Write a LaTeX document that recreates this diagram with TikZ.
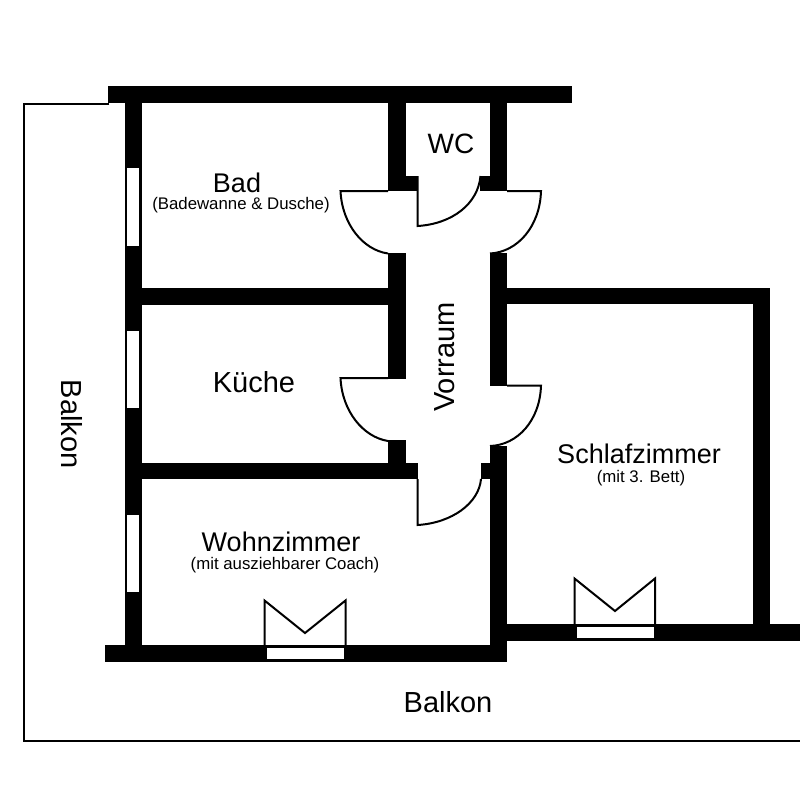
\documentclass[tikz,border=0pt]{standalone}
\usepackage{fontspec}
\setmainfont{Liberation Sans}
\def\wall(#1,#2)(#3,#4){\fill[black] (#1,#2) rectangle (#3,#4);}
\def\glass(#1,#2)(#3,#4){\draw[fill=white, line width=0.6pt] (#1,#2) rectangle (#3,#4);}
\tikzset{
	room/.style={font=\fontsize{#1}{#1}\selectfont, inner sep=0pt},
	room/.default=27,
	note/.style={font=\fontsize{16.8}{17}\selectfont, inner sep=0pt},
	doorline/.style={line width=2pt, line join=miter},
}

\begin{document}
\begin{tikzpicture}[x=1pt, y=-1pt]
	%%%%% START %%%%%
	\useasboundingbox (0, 0) rectangle (800, 800);

	\draw[line width=2pt] (109, 103.5) -- (23.5, 103.5) -- (23.5, 741) -- (800, 741);

	\wall(108, 86)(572, 103)
	\wall(124.5, 103)(141.5, 662)
	\wall(105, 645)(507, 661.5)
	\wall(125, 288)(390, 304.5)
	\wall(125, 463)(418, 479)

	\wall(388, 103)(406, 190.5)
	\wall(406, 176)(418, 190.5)
	\wall(490, 103)(507, 190.5)
	\wall(480, 176)(490, 190.5)

	\wall(388, 253)(406, 379)
	\wall(388, 440)(406, 463)
	\wall(490, 253)(507, 386)
	\wall(490, 446)(507, 661.5)
	\wall(481, 463)(490, 479)

	\wall(507, 288)(770, 304)
	\wall(753, 288)(770, 625)
	\wall(507, 623.5)(800, 640.5)

	\glass(126, 167)(139, 246)
	\glass(126, 330)(139, 408)
	\glass(126, 514)(139, 592)
	\glass(266, 647)(344, 659.5)
	\glass(576, 626)(654, 638.5)

	% doors
	\draw[doorline] (417.5, 176) -- (417.5, 226) .. controls (452, 224) and (478, 204) .. (480.5, 176);
	\draw[doorline] (388, 191) -- (340.5, 191) .. controls (342, 224) and (363, 250) .. (388, 253.5);
	\draw[doorline] (507, 191) -- (541, 191) .. controls (540, 226) and (518, 252) .. (490, 253.5);
	\draw[doorline] (388, 378) -- (340.5, 378) .. controls (342, 411) and (363, 437) .. (388, 441);
	\draw[doorline] (507, 385.5) -- (541, 385.5) .. controls (540, 420) and (518, 445) .. (490, 446);
	\draw[doorline] (417.5, 479) -- (417.5, 525) .. controls (452, 523) and (479, 503) .. (481, 479);

	% windows, open
	\draw[doorline] (264.5, 646) -- (264.5, 600.5) -- (305, 633) -- (345.5, 600.5) -- (345.5, 646);
	\draw[doorline] (574.5, 624) -- (574.5, 578.5) -- (615, 611) -- (655, 578.5) -- (655, 624);

	\node[room=28] (wc) at (451, 144) {WC};
	\node[room] (bad) at (237, 182.5) {Bad};
	\node[note] (badnote) at (241, 205.5) {(Badewanne \& Dusche)};
	\node[room=29] (kueche) at (254, 382) {Küche};
	\node[room=29, rotate=90] (vorraum) at (445, 357) {Vorraum};
	\node[room] (schlaf) at (639, 454) {Schlafzimmer};
	\node[note] (schlafnote) at (641, 478) {(mit 3. Bett)};
	\node[room] (wohn) at (281, 541.5) {Wohnzimmer};
	\node[note] (wohnnote) at (285, 565) {(mit ausziehbarer Coach)};
	\node[room=29] (balkonsued) at (448, 702) {Balkon};
	\node[room=29, rotate=-90] (balkonwest) at (72, 424) {Balkon};
	%%%%% END %%%%%
\end{tikzpicture}
\end{document}
